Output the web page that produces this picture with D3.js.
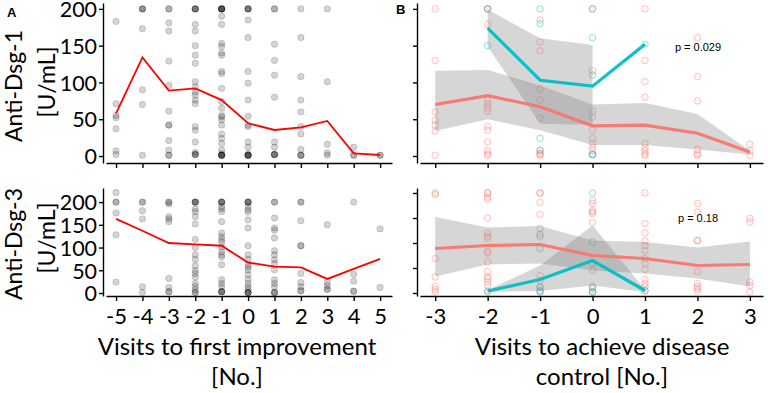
<!DOCTYPE html>
<html><head><meta charset="utf-8">
<script src="https://cdn.jsdelivr.net/npm/d3@7"></script>
<style>body{margin:0;background:#fff}svg{display:block}</style>
</head><body>
<svg id="c" width="768" height="393"></svg>
<script>
// ---------- DATA ----------
const xFirst = [-5,-4,-3,-2,-1,0,1,2,3,4,5];
const xControl = [-3,-2,-1,0,1,2,3];
const yTicks = [0,50,100,150,200];

// Panel A, Anti-Dsg-1: individual values per visit
const dsg1FirstPts = [
  [183,71,55,52,37,7,2],
  [200,200,200,173,90,70,1],
  [200,200,181,170,129,96,61,42,42,21,8,1,1],
  [200,200,200,200,179,170,150,137,126,101,94,87,83,76,71,40,35,19,5,2,2,2],
  [200,200,200,200,200,200,190,179,153,149,140,137,115,112,92,74,65,55,53,49,42,30,24,17,8,3,1,1,1,1,1],
  [200,200,200,200,185,161,115,99,76,54,42,40,19,12,3,1,1,1,1,1],
  [200,200,152,130,110,80,19,12,2,2,2,2],
  [200,161,108,76,60,40,30,9,1,1,1],
  [200,101,16,4,1],
  [12,1,1],
  [1,1]
];
const dsg1FirstMean = [58,134,89,92,76,44.5,35.4,39,47.6,3.6,1.4];

// Panel A, Anti-Dsg-3
const dsg3FirstPts = [
  [221,200,200,176,128,24],
  [200,200,181,163,14,1],
  [200,200,196,168,163,157,32,12,3,3],
  [200,200,200,200,185,179,168,152,118,100,84,74,60,49,43,35,21,14,7,1,1],
  [200,200,200,200,190,185,179,157,132,124,118,111,101,91,84,79,62,29,21,14,3,3,3,3],
  [200,200,200,200,190,183,178,161,143,104,84,74,63,57,51,40,30,21,14,8,1,1,1,1],
  [200,200,165,143,138,121,93,84,73,65,51,29,21,14,1,1,1],
  [200,200,159,104,104,43,23,14,5,5],
  [150,23,16,8,8],
  [200,41,26,4,4],
  [141,12]
];
const dsg3FirstMean = [163,137,110,107,104,67,58,56.5,31,53,75];

// Panel B, Anti-Dsg-1 (red = group 1, teal = group 2)
const dsg1CtrlRedPts = [
  [200,130,60,49,42,34,1],
  [200,200,179,76,71,66,61,40,35,19,7,3,1],
  [185,155,143,91,76,52,7,3,3,1],
  [200,116,61,53,35,24,17,12,7,2],
  [200,130,101,80,17,11,7,3,1],
  [161,108,75,9,3,1],
  [16,7,1]
];
const dsg1CtrlTealX = [-2,-1,0,1];
const dsg1CtrlTealPts = [[200,150],[200,180,24,8],[200,161,110,2,2],[152]];
const dsg1CtrlRedMean = [70,82,67,41,42,31,5.5];
const dsg1CtrlRedLo = [34,50,35,15,15,9,2];
const dsg1CtrlRedHi = [116,117,96,70,72,57,7];
const dsg1CtrlTealMean = [174,103,95,152];
const dsg1CtrlTealBandX = [-2,-1,0];
const dsg1CtrlTealLo = [149,44,42];
const dsg1CtrlTealHi = [199,160,151];
const pValue1 = "p = 0.029";

// Panel B, Anti-Dsg-3
const dsg3CtrlRedPts = [
  [200,197,69,32,13,7,2],
  [200,200,192,187,150,120,113,109,83,80,62,43,33,29,22,15,2],
  [200,200,181,157,129,112,35,25,12,2],
  [185,179,165,162,159,141,59,45,12,9,2],
  [200,139,120,104,95,85,69,60,47,27,19,12,4],
  [179,162,105,105,43,19,13,9,4],
  [149,142,22,15,2]
];
const dsg3CtrlTealX = [-2,-1,0,1];
const dsg3CtrlTealPts = [[4],[117,89,12,5,2],[200,102,12,2,2],[5]];
const dsg3CtrlRedMean = [89,95,97,75,69,55,57];
const dsg3CtrlRedLo = [33,57,59,45,39,29,13];
const dsg3CtrlRedHi = [152,131,134,105,102,91,103];
const dsg3CtrlTealMean = [4,27,65,5];
const dsg3CtrlTealBandX = [-2,-1,0,1];
const dsg3CtrlTealLo = [2,4,15,2];
const dsg3CtrlTealHi = [6,55,135,7];
const pValue2 = "p = 0.18";

// ---------- DRAW ----------
const svg = d3.select("#c");
const FONT = "Lato, 'Open Sans', sans-serif";
const RED = "#F8766D", TEAL = "#00BFC4";
const fmt = d => String(d);

const xL = d3.scaleLinear().domain([-5.38,5.45]).range([106,392]);
const xR = d3.scaleLinear().domain([-3.29,3.25]).range([420,763]);
const yTop = d3.scaleLinear().domain([-9.5,208]).range([163,3]);
const yBotL = d3.scaleLinear().domain([-6.6,231]).range([296,188]);
const yBotR = d3.scaleLinear().domain([-6,210]).range([296,188]);

function axes(x, y, ticksX, showX, showY){
  const gx = svg.append("g").attr("transform",`translate(0,${y.range()[0]})`)
    .call(d3.axisBottom(x).tickValues(ticksX).tickSize(5).tickSizeOuter(0).tickFormat(showX?fmt:""));
  const gy = svg.append("g").attr("transform",`translate(${x.range()[0]-3},0)`)
    .call(d3.axisLeft(y).tickValues(yTicks).tickSize(4).tickSizeOuter(0).tickFormat(showY?fmt:""));
  [gx,gy].forEach(g=>{
    g.selectAll("path,line").attr("stroke","#000").attr("stroke-width",1.4);
    g.selectAll("text").attr("font-family",FONT).attr("font-size",22).attr("fill","#000");
  });
  gx.selectAll("text").attr("dy","0.9em");
  gy.selectAll("text").attr("dx","0.05em").attr("dy","0.36em").attr("font-size",21.5);
}

function greyPoints(x, y, xs, pts){
  const flat = [];
  xs.forEach((xv,i)=>pts[i].forEach(v=>flat.push([xv,v])));
  svg.append("g").selectAll("circle").data(flat).join("circle")
    .attr("cx",d=>x(d[0])).attr("cy",d=>y(d[1])).attr("r",3.2)
    .attr("fill","#000").attr("fill-opacity",0.17)
    .attr("stroke","#000").attr("stroke-opacity",0.18).attr("stroke-width",0.8);
}
function redLine(x, y, xs, vals){
  svg.append("path").datum(xs.map((xv,i)=>[xv,vals[i]]))
    .attr("d",d3.line().x(d=>x(d[0])).y(d=>y(d[1])))
    .attr("fill","none").attr("stroke","#FF0000").attr("stroke-width",1.8);
}
function colPoints(x, y, xs, pts, col){
  const flat = [];
  xs.forEach((xv,i)=>pts[i].forEach(v=>flat.push([xv,v])));
  svg.append("g").selectAll("circle").data(flat).join("circle")
    .attr("cx",d=>x(d[0])).attr("cy",d=>y(d[1])).attr("r",3.3)
    .attr("fill",col).attr("fill-opacity",0.06)
    .attr("stroke",col).attr("stroke-opacity",0.4).attr("stroke-width",1);
}
function band(x, y, xs, lo, hi){
  svg.append("path").datum(xs.map((xv,i)=>[xv,lo[i],hi[i]]))
    .attr("d",d3.area().x(d=>x(d[0])).y0(d=>y(d[1])).y1(d=>y(d[2])))
    .attr("fill","#7f7f7f").attr("fill-opacity",0.32);
}
function thickLine(x, y, xs, vals, col){
  svg.append("path").datum(xs.map((xv,i)=>[xv,vals[i]]))
    .attr("d",d3.line().x(d=>x(d[0])).y(d=>y(d[1])))
    .attr("fill","none").attr("stroke",col).attr("stroke-width",3.2).attr("stroke-opacity",0.95);
}

// Panel A
greyPoints(xL,yTop,xFirst,dsg1FirstPts);
redLine(xL,yTop,xFirst,dsg1FirstMean);
axes(xL,yTop,xFirst,false,true);
greyPoints(xL,yBotL,xFirst,dsg3FirstPts);
redLine(xL,yBotL,xFirst,dsg3FirstMean);
axes(xL,yBotL,xFirst,true,true);

// Panel B top
colPoints(xR,yTop,xControl,dsg1CtrlRedPts,RED);
colPoints(xR,yTop,dsg1CtrlTealX,dsg1CtrlTealPts,TEAL);
band(xR,yTop,xControl,dsg1CtrlRedLo,dsg1CtrlRedHi);
band(xR,yTop,dsg1CtrlTealBandX,dsg1CtrlTealLo,dsg1CtrlTealHi);
thickLine(xR,yTop,xControl,dsg1CtrlRedMean,RED);
thickLine(xR,yTop,dsg1CtrlTealX,dsg1CtrlTealMean,TEAL);
axes(xR,yTop,xControl,false,false);
// Panel B bottom
colPoints(xR,yBotR,xControl,dsg3CtrlRedPts,RED);
colPoints(xR,yBotR,dsg3CtrlTealX,dsg3CtrlTealPts,TEAL);
band(xR,yBotR,xControl,dsg3CtrlRedLo,dsg3CtrlRedHi);
band(xR,yBotR,dsg3CtrlTealBandX,dsg3CtrlTealLo,dsg3CtrlTealHi);
thickLine(xR,yBotR,xControl,dsg3CtrlRedMean,RED);
thickLine(xR,yBotR,dsg3CtrlTealX,dsg3CtrlTealMean,TEAL);
axes(xR,yBotR,xControl,true,false);

// p-values
svg.append("text").attr("x",698).attr("y",51).attr("text-anchor","middle")
  .attr("font-family","Liberation Sans, Arial, sans-serif").attr("font-size",11).text(pValue1);
svg.append("text").attr("x",698).attr("y",222).attr("text-anchor","middle")
  .attr("font-family","Liberation Sans, Arial, sans-serif").attr("font-size",11).text(pValue2);

// panel letters
svg.append("text").attr("x",7).attr("y",17).attr("font-family","Liberation Sans, Arial, sans-serif")
  .attr("font-weight","bold").attr("font-size",13).text("A");
svg.append("text").attr("x",396).attr("y",14).attr("font-family","Liberation Sans, Arial, sans-serif")
  .attr("font-weight","bold").attr("font-size",13).text("B");

// y titles
function yTitle(cx, cy, txt){
  svg.append("text").attr("transform",`translate(${cx},${cy}) rotate(-90)`)
    .attr("text-anchor","middle").attr("dy","0.35em")
    .attr("font-family",FONT).attr("font-size",23).text(txt);
}
yTitle(14,86,"Anti-Dsg-1"); yTitle(47,82,"[U/mL]");
yTitle(14,244,"Anti-Dsg-3"); yTitle(47,238,"[U/mL]");

// x titles
function xTitle(cx, cy, txt){
  svg.append("text").attr("x",cx).attr("y",cy).attr("text-anchor","middle").attr("dy","0.35em")
    .attr("font-family",FONT).attr("font-size",24).text(txt);
}
xTitle(237,347,"Visits to first improvement"); xTitle(237,377,"[No.]");
xTitle(602,347,"Visits to achieve disease"); xTitle(602,377,"control [No.]");
</script>
</body></html>
